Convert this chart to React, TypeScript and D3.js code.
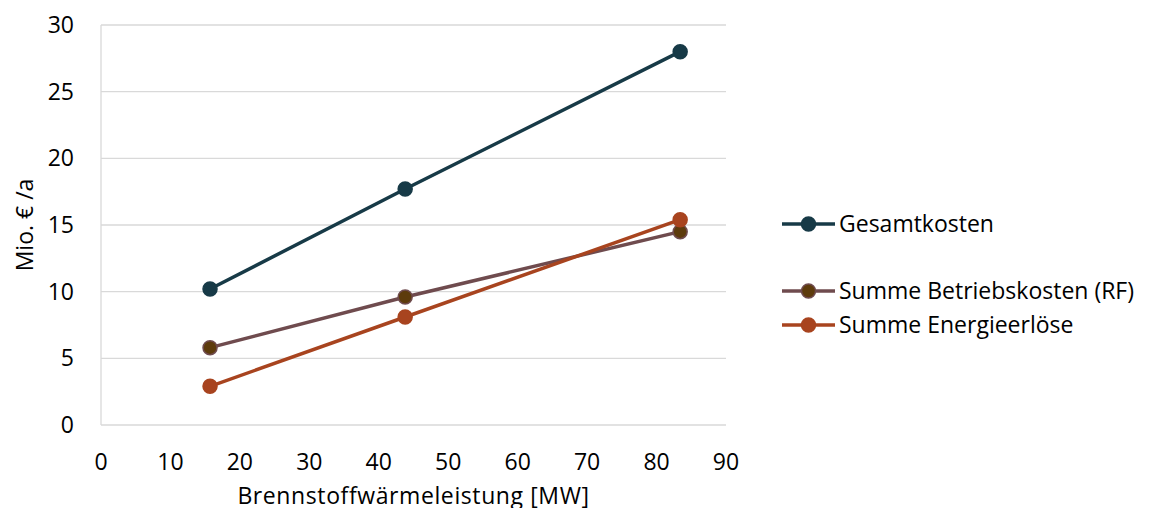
import React, { useEffect, useRef } from 'react';
import * as d3 from 'd3';

const xValues = [15.7, 43.8, 83.4];
const seriesNames = ['Gesamtkosten', 'Summe Betriebskosten (RF)', 'Summe Energieerlöse'];
const gesamtkosten = [10.2, 17.7, 28.0];
const betriebskosten = [5.8, 9.6, 14.5];
const energieerloese = [2.9, 8.1, 15.4];
const xTicks = [0, 10, 20, 30, 40, 50, 60, 70, 80, 90];
const yTicks = [0, 5, 10, 15, 20, 25, 30];

const lineColors = ['#173a47', '#6f4b4e', '#a8441f'];
const dotColors = ['#173a47', '#5d3b0c', '#a8441f'];

export default function App() {
  const svgRef = useRef<SVGSVGElement>(null);

  useEffect(() => {
    if (!svgRef.current) return;
    const svg = d3.select(svgRef.current);
    svg.selectAll('*').remove();

    const font = "'Open Sans', sans-serif";
    const fontSize = '23px';
    const left = 101, right = 726, top = 25, bottom = 425;

    const x = d3.scaleLinear().domain([0, 90]).range([left, right]);
    const y = d3.scaleLinear().domain([0, 30]).range([bottom, top]);

    // gridlines
    svg.append('g')
      .selectAll('line')
      .data(yTicks)
      .enter()
      .append('line')
      .attr('x1', left)
      .attr('x2', right)
      .attr('y1', d => y(d))
      .attr('y2', d => y(d))
      .attr('stroke', '#d9d9d9')
      .attr('stroke-width', 1.3);

    // y axis line
    svg.append('line')
      .attr('x1', left).attr('x2', left)
      .attr('y1', top).attr('y2', bottom)
      .attr('stroke', '#d9d9d9')
      .attr('stroke-width', 1.3);

    // tick labels
    svg.append('g')
      .selectAll('text')
      .data(yTicks)
      .enter()
      .append('text')
      .attr('x', 74)
      .attr('y', d => y(d))
      .attr('dy', '0.35em')
      .attr('text-anchor', 'end')
      .style('font-family', font)
      .style('font-size', fontSize)
      .attr('fill', '#000')
      .text(d => d);

    svg.append('g')
      .selectAll('text')
      .data(xTicks)
      .enter()
      .append('text')
      .attr('x', d => x(d))
      .attr('y', 462)
      .attr('dy', '0.35em')
      .attr('text-anchor', 'middle')
      .style('font-family', font)
      .style('font-size', fontSize)
      .attr('fill', '#000')
      .text(d => d);

    // axis titles
    svg.append('text')
      .attr('x', (left + right) / 2)
      .attr('y', 496)
      .attr('dy', '0.35em')
      .attr('text-anchor', 'middle')
      .style('font-family', font)
      .style('font-size', fontSize)
      .style('letter-spacing', '0.6px')
      .attr('fill', '#000')
      .text('Brennstoffwärmeleistung [MW]');

    svg.append('text')
      .attr('transform', `translate(25,${(top + bottom) / 2}) rotate(-90)`)
      .attr('dy', '0.35em')
      .attr('text-anchor', 'middle')
      .style('font-family', font)
      .style('font-size', fontSize)
      .attr('fill', '#000')
      .text('Mio. € /a');

    const allSeries = [gesamtkosten, betriebskosten, energieerloese];
    const line = d3.line<number>()
      .x((_, i) => x(xValues[i]))
      .y(d => y(d));

    allSeries.forEach((values, s) => {
      svg.append('path')
        .datum(values)
        .attr('fill', 'none')
        .attr('stroke', lineColors[s])
        .attr('stroke-width', 3.5)
        .attr('d', line);

      svg.append('g')
        .selectAll('circle')
        .data(values)
        .enter()
        .append('circle')
        .attr('cx', (_, i) => x(xValues[i]))
        .attr('cy', d => y(d))
        .attr('r', 7)
        .attr('fill', dotColors[s])
        .attr('stroke', lineColors[s])
        .attr('stroke-width', 1.5);
    });

    // legend
    const legendY = [224, 291, 325];
    const legend = svg.append('g');
    seriesNames.forEach((name, s) => {
      const g = legend.append('g').attr('transform', `translate(782,${legendY[s]})`);
      g.append('line')
        .attr('x1', 0).attr('x2', 53)
        .attr('y1', 0).attr('y2', 0)
        .attr('stroke', lineColors[s])
        .attr('stroke-width', 3.5);
      g.append('circle')
        .attr('cx', 26.5).attr('cy', 0)
        .attr('r', 7)
        .attr('fill', dotColors[s])
        .attr('stroke', lineColors[s])
        .attr('stroke-width', 1.5);
      g.append('text')
        .attr('x', 57)
        .attr('y', 0)
        .attr('dy', '0.35em')
        .style('font-family', font)
        .style('font-size', fontSize)
        .attr('fill', '#000')
        .text(name);
    });
  }, []);

  return (
    <div style={{ margin: -8, background: '#fff' }}>
      <svg ref={svgRef} width={1156} height={516} style={{ display: 'block' }} />
    </div>
  );
}
